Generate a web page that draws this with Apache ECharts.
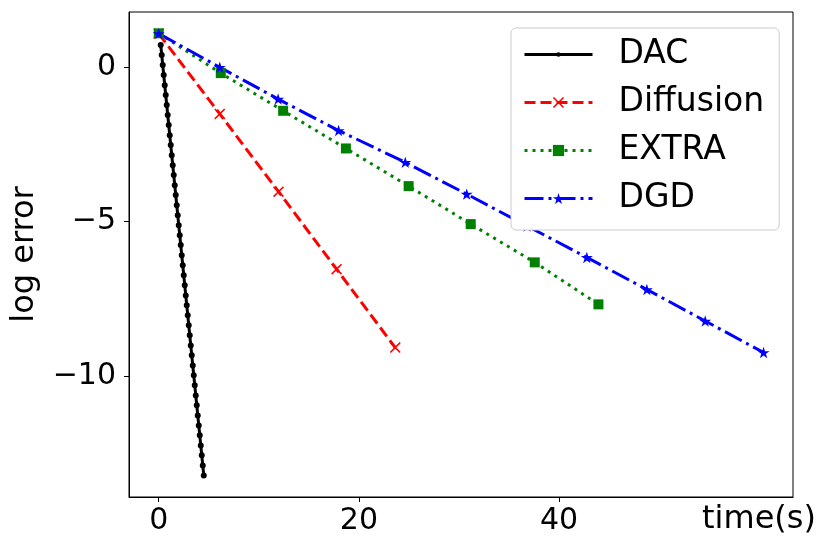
<!DOCTYPE html>
<html>
<head>
<meta charset="utf-8">
<script src="https://cdn.jsdelivr.net/npm/echarts@6/dist/echarts.min.js"></script>
<style>
  html, body { margin: 0; padding: 0; background: #fff; }
  #main { width: 830px; height: 551px; }
</style>
</head>
<body>
<div id="main"></div>
<script>
// 数据
var dacTime = [0.2, 0.3, 0.4, 0.5, 0.6, 0.7, 0.8, 0.9, 1.0, 1.1, 1.2, 1.3, 1.4, 1.5, 1.6,
  1.7, 1.8, 1.9, 2.0, 2.1, 2.2, 2.3, 2.4, 2.5, 2.6, 2.7, 2.8, 2.9, 3.0, 3.1, 3.2, 3.3,
  3.4, 3.5, 3.6, 3.7, 3.8, 3.9, 4.0, 4.1, 4.2, 4.3, 4.4, 4.5];
var dacErr = [0.72, 0.40, 0.07, -0.25, -0.58, -0.90, -1.22, -1.55, -1.87, -2.20, -2.52,
  -2.85, -3.17, -3.49, -3.82, -4.14, -4.47, -4.79, -5.12, -5.44, -5.76, -6.09, -6.41,
  -6.74, -7.06, -7.39, -7.71, -8.03, -8.36, -8.68, -9.01, -9.33, -9.66, -9.98, -10.30,
  -10.63, -10.95, -11.28, -11.60, -11.92, -12.25, -12.57, -12.90, -13.22];

var diffTime = [0, 6.1, 11.97, 17.77, 23.63];
var diffErr = [1.09, -1.51, -4.03, -6.54, -9.08];

var extraTime = [0, 6.2, 12.43, 18.7, 24.97, 31.17, 37.57, 43.93];
var extraErr = [1.10, -0.19, -1.41, -2.63, -3.85, -5.08, -6.32, -7.68];

var dgdTime = [0, 6.1, 11.93, 17.97, 24.63, 30.77, 36.8, 42.77, 48.77, 54.6, 60.43];
var dgdErr = [1.09, 0.0, -1.03, -2.05, -3.08, -4.11, -5.14, -6.16, -7.20, -8.22, -9.24];

var xTicks = [0, 20, 40];
var yTicks = [-10, -5, 0];

function pairs(xs, ys) {
  var out = [];
  for (var i = 0; i < xs.length; i++) out.push([xs[i], ys[i]]);
  return out;
}
function minusFmt(v) {
  return v < 0 ? '\u2212' + (-v) : String(v);
}

var FONT = 'DejaVu Sans';
// 小圆点, 外面留空 (图例里也小)
var dotIcon = 'path://M0,0 L0.01,0 M10,10 L10.01,10 M5,3 A2,2 0 1 1 5,7 A2,2 0 1 1 5,3 Z';
var crossIcon = 'path://M1,0 L5,4 L9,0 L10,1 L6,5 L10,9 L9,10 L5,6 L1,10 L0,9 L4,5 L0,1 Z';
var starIcon = 'path://M10,0 L12.25,6.91 L19.51,6.91 L13.63,11.18 L15.88,18.09 L10,13.82 L4.12,18.09 L6.37,11.18 L0.49,6.91 L7.75,6.91 Z';

var myChart = echarts.init(document.getElementById('main'));
var option = {
  animation: false,
  backgroundColor: '#fff',
  grid: {
    left: 129, right: 37, top: 12, bottom: 54,
    show: true, borderColor: '#000', borderWidth: 1
  },
  legend: {
    orient: 'vertical',
    left: 511, top: 28, z: 20,
    padding: [10, 15, 15, 12],
    itemWidth: 68, itemHeight: 14, itemGap: 15,
    backgroundColor: '#fff',
    borderColor: '#cccccc', borderWidth: 1, borderRadius: 5,
    lineStyle: { width: 3 },
    textStyle: { fontFamily: FONT, fontSize: 33, color: '#000', lineHeight: 33, padding: [0, 0, 0, 21] },
    data: ['DAC', 'Diffusion', 'EXTRA', 'DGD']
  },
  xAxis: {
    type: 'value', min: -2.97, max: 63.37,
    splitLine: { show: false },
    axisLine: { onZero: false, lineStyle: { color: '#000', width: 1 } },
    axisTick: { show: true, length: 5, lineStyle: { color: '#000' }, customValues: xTicks },
    axisLabel: { fontFamily: FONT, fontSize: 30, color: '#000', margin: 9, customValues: xTicks },
    name: 'time(s)', nameLocation: 'end', nameGap: 23,
    nameTextStyle: { fontFamily: FONT, fontSize: 32, color: '#000', align: 'right', verticalAlign: 'top', padding: [7, 0, 0, 0] }
  },
  yAxis: {
    type: 'value', min: -13.92, max: 1.79,
    splitLine: { show: false },
    axisLine: { show: true, onZero: false, lineStyle: { color: '#000', width: 1 } },
    axisTick: { show: true, length: 5, lineStyle: { color: '#000' }, customValues: yTicks },
    axisLabel: { fontFamily: FONT, fontSize: 30, color: '#000', margin: 13, formatter: minusFmt, customValues: yTicks },
    name: 'log error', nameLocation: 'middle', nameGap: 88, nameRotate: 90,
    nameTextStyle: { fontFamily: FONT, fontSize: 32, color: '#000' }
  },
  series: [
    {
      name: 'DAC', type: 'line', data: pairs(dacTime, dacErr),
      symbol: dotIcon, symbolSize: 15, showAllSymbol: true,
      lineStyle: { color: '#000', width: 3 },
      itemStyle: { color: '#000' }
    },
    {
      name: 'Diffusion', type: 'line', data: pairs(diffTime, diffErr),
      symbol: crossIcon, symbolSize: 11, showAllSymbol: true,
      lineStyle: { color: '#ff0000', width: 3, type: [11, 5] },
      itemStyle: { color: '#ff0000' }
    },
    {
      name: 'EXTRA', type: 'line', data: pairs(extraTime, extraErr),
      symbol: 'rect', symbolSize: 10, showAllSymbol: true,
      lineStyle: { color: '#008000', width: 3, type: [3, 5] },
      itemStyle: { color: '#008000' }
    },
    {
      name: 'DGD', type: 'line', data: pairs(dgdTime, dgdErr),
      symbol: starIcon, symbolSize: 12, symbolKeepAspect: true, showAllSymbol: true,
      lineStyle: { color: '#0000ff', width: 3, type: [19, 5, 3, 5] },
      itemStyle: { color: '#0000ff' }
    }
  ]
};
if (option && typeof option === 'object') {
  myChart.setOption(option, true);
}
</script>
</body>
</html>
